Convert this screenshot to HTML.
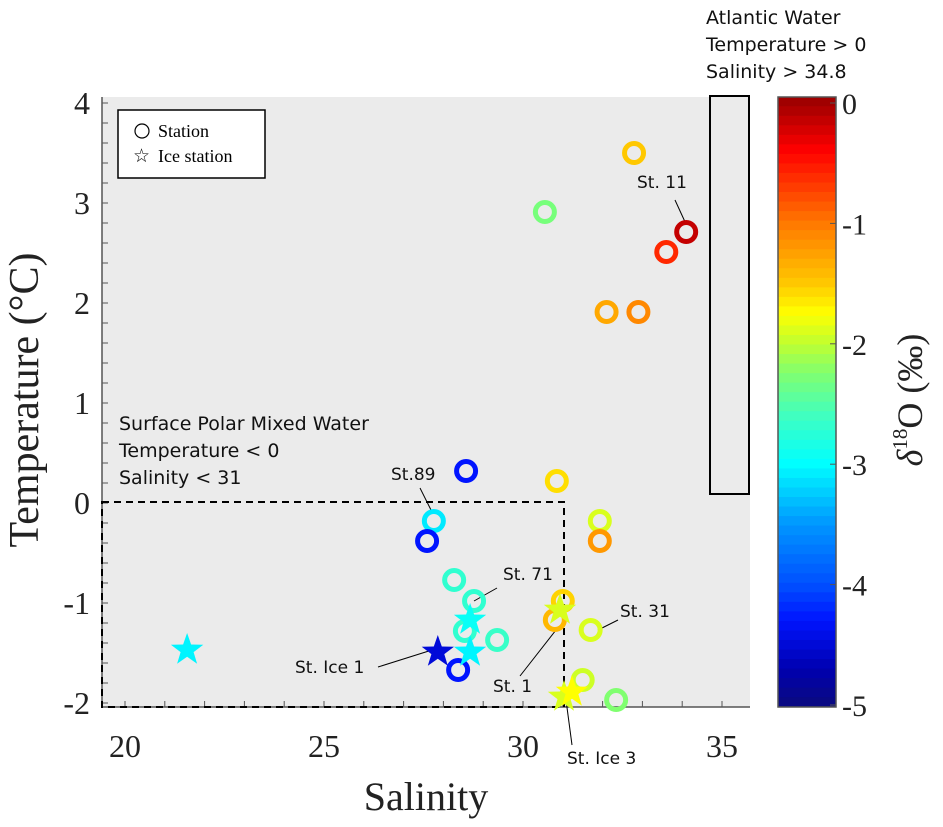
<!DOCTYPE html>
<html><head><meta charset="utf-8"><style>
body{margin:0;background:#fff}
svg{display:block}
.ser{font-family:"Liberation Serif",serif;fill:#222}
.ann{font-family:"DejaVu Sans","Liberation Sans",sans-serif;fill:#111}
</style></head><body>
<svg id="chart" width="943" height="827">
<rect x="102" y="97" width="648" height="610" fill="#ebebeb"/>
<g id="axes"></g>
<g id="marks"></g>
<g id="cbar"></g>
</svg>
<script>
const circleSal=[32.79,30.55,34.1,33.6,32.1,32.9,28.57,30.85,27.76,27.59,31.93,31.93,28.27,28.77,31.0,30.8,28.54,29.35,31.7,28.37,31.5,32.34];
const circleTemp=[3.5,2.91,2.71,2.51,1.91,1.91,0.32,0.22,-0.18,-0.38,-0.18,-0.38,-0.77,-0.98,-0.98,-1.17,-1.28,-1.37,-1.27,-1.67,-1.77,-1.97];
const circleD18O=[-1.5,-2.3,-0.15,-0.6,-1.3,-1.1,-4.3,-1.6,-3.1,-4.3,-1.9,-1.2,-2.7,-2.7,-1.55,-1.4,-2.7,-2.65,-1.9,-4.3,-1.95,-2.25];
const starSal=[21.56,27.86,28.67,28.67,30.93,31.03,31.23];
const starTemp=[-1.47,-1.49,-1.49,-1.17,-1.07,-1.94,-1.89];
const starD18O=[-3.05,-4.5,-3.05,-2.95,-1.9,-1.9,-1.75];
const xTicks=[20,25,30,35];
const yTicks=[4,3,2,1,0,-1,-2];
const cTicks=[0,-1,-2,-3,-4,-5];

const NS="http://www.w3.org/2000/svg";
const X=s=>125+(s-20)*39.8;
const Y=t=>503-100*t;
const CY=v=>103-(v)*120.4;
const stops=[[-5,[10,10,128]],[-4.7,[0,0,176]],[-4.3,[0,20,255]],[-4,[0,80,255]],[-3.5,[0,150,255]],[-3.0,[0,255,255]],[-2.6,[64,255,192]],[-2.25,[128,255,112]],[-2.0,[192,255,48]],[-1.75,[255,255,0]],[-1.5,[255,200,0]],[-1.0,[255,120,0]],[-0.4,[255,0,0]],[0,[160,0,0]]];
function cmap(v){v=Math.max(-5,Math.min(0,v));
 for(let i=0;i<stops.length-1;i++){const a=stops[i],b=stops[i+1];
  if(v<=b[0]){const f=(v-a[0])/(b[0]-a[0]);const c=a[1].map((x,j)=>Math.round(x+(b[1][j]-x)*f));return `rgb(${c})`;}}
 return 'rgb(160,0,0)';}
function mk(tag,attrs,parent,txt){const e=document.createElementNS(NS,tag);for(const k in attrs)e.setAttribute(k,attrs[k]);if(txt!==undefined)e.textContent=txt;parent.appendChild(e);return e;}
const axes=document.getElementById('axes'),marks=document.getElementById('marks'),cb=document.getElementById('cbar');

let l=mk('line',{x1:102,y1:97,x2:102,y2:707,stroke:'#555','stroke-width':1.5},axes);


l=mk('line',{x1:102,y1:707,x2:750,y2:707,stroke:'#555','stroke-width':1.5},axes);


for(let s=20;s<=35;s++){mk('line',{x1:X(s),y1:707,x2:X(s),y2:701,stroke:'#555'},axes);}
for(let i=-10;i<=20;i++){const t=i/5;mk('line',{x1:102,y1:Y(t),x2:108,y2:Y(t),stroke:'#555'},axes);}
xTicks.forEach(s=>{const e=mk('text',{x:X(s),y:757,'text-anchor':'middle','font-size':32,class:'ser'},axes,String(s));
 
 });
yTicks.forEach(t=>{const e=mk('text',{x:90,y:Y(t)+11,'text-anchor':'end','font-size':32,class:'ser'},axes,t<0?'-'+(-t):String(t));
 
 });
let e=mk('text',{x:426,y:810,'text-anchor':'middle','font-size':40,class:'ser'},axes,'Salinity');


e=mk('text',{x:0,y:0,'text-anchor':'middle','font-size':42,class:'ser',transform:'translate(38,400) rotate(-90)'},axes,'Temperature (°C)');



e=mk('rect',{x:102,y:502,width:462,height:205,fill:'none',stroke:'#000','stroke-width':2,'stroke-dasharray':'7,5'},axes);


e=mk('rect',{x:710,y:96,width:39,height:398,fill:'none',stroke:'#000','stroke-width':2},axes);


[['Surface Polar Mixed Water',430],['Temperature < 0',457],['Salinity < 31',484]].forEach(a=>{
 const t=mk('text',{x:119,y:a[1],'font-size':19,class:'ann'},axes,a[0]);
 
 });
[['Atlantic Water',24],['Temperature > 0',51],['Salinity > 34.8',78]].forEach(a=>{
 const t=mk('text',{x:706,y:a[1],'font-size':19,class:'ann'},axes,a[0]);
 
 });

const lg=mk('g',{},axes);


mk('rect',{x:118,y:110,width:147,height:68,fill:'#fff',stroke:'#000','stroke-width':1.5},lg);
mk('circle',{cx:142,cy:131,r:7,fill:'none',stroke:'#000','stroke-width':1.2},lg);
mk('text',{x:158,y:137,'font-size':18,class:'ser',style:'fill:#000'},lg,'Station');
mk('text',{x:133,y:162,'font-size':19,class:'ser',style:'fill:#000'},lg,'☆');
mk('text',{x:158,y:162,'font-size':18,class:'ser',style:'fill:#000'},lg,'Ice station');

const anns=[['St. 11',637,188,675,200,686,224],['St.89',391,480,420,488,432,512],['St. 71',503,580,497,588,474,601],['St. 31',620,617,618,620,598,630],['St. Ice 1',295,673,378,667,432,650],['St. 1',493,692,520,676,556,630],['St. Ice 3',567,764,572,745,566,700]];
anns.forEach(a=>{const t=mk('text',{x:a[1],y:a[2],'font-size':17,class:'ann'},axes,a[0]);
 
 
 mk('line',{x1:a[3],y1:a[4],x2:a[5],y2:a[6],stroke:'#000','stroke-width':1},axes);});

function starPath(cx,cy,R){let p='';for(let i=0;i<10;i++){const r=i%2?R*0.4:R,a=-Math.PI/2+i*Math.PI/5;p+=(i?'L':'M')+(cx+r*Math.cos(a)).toFixed(1)+','+(cy+r*Math.sin(a)).toFixed(1);}return p+'Z';}
circleSal.forEach((s,i)=>{const c=mk('circle',{cx:X(s),cy:Y(circleTemp[i]),r:9.5,fill:'none',stroke:cmap(circleD18O[i]),'stroke-width':5},marks);
 
 });
starSal.forEach((s,i)=>{const p=mk('path',{d:starPath(X(s),Y(starTemp[i]),17),fill:cmap(starD18O[i])},marks);
 
 });

const cbTop=97,cbBot=707;
for(let k=0;k<64;k++){const y0=cbTop+(cbBot-cbTop)*k/64,y1=cbTop+(cbBot-cbTop)*(k+1)/64;
 const v=-(((y0+y1)/2-103)/120.4);
 mk('rect',{x:778,y:y0-0.3,width:58,height:y1-y0+0.6,fill:cmap(v)},cb);}
e=mk('rect',{x:778,y:97,width:58,height:610,fill:'none',stroke:'#555','stroke-width':1.5},cb);


cTicks.forEach(v=>{const y=Math.min(705,Math.max(103,CY(v)));
 mk('line',{x1:830,y1:y,x2:836,y2:y,stroke:'#555'},cb);
 const t=mk('text',{x:842,y:y+11,'font-size':30,class:'ser'},cb,v<0?'-'+(-v):String(v));
 
 });
e=mk('text',{x:0,y:0,'text-anchor':'middle','font-size':36,class:'ser',transform:'translate(922,400) rotate(-90)'},cb);
e.innerHTML='<tspan font-style="italic">δ</tspan><tspan font-size="21" dy="-15">18</tspan><tspan dy="15">O (‰)</tspan>';


</script>
</body></html>
